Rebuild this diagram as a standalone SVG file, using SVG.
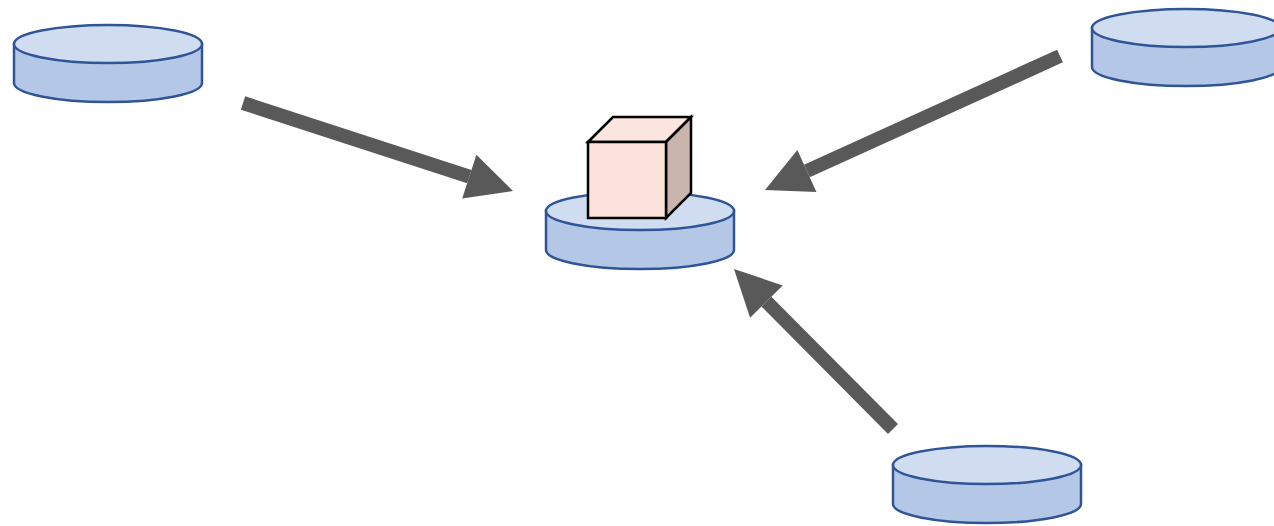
<svg xmlns="http://www.w3.org/2000/svg" width="1274" height="526" viewBox="0 0 1274 526">
  <style>
    .side { fill: #B4C7E7; stroke: #2F5597; stroke-width: 2.5; }
    .lid { fill: #D0DCF0; stroke: #2F5597; stroke-width: 2.5; }
    .shaft { stroke: #595959; stroke-width: 14; fill: none; marker-end: url(#head); }
    .cube { stroke: #000; stroke-width: 2.5; stroke-linejoin: miter; }
  </style>
  <defs>
    <marker id="head" markerUnits="userSpaceOnUse" markerWidth="48" markerHeight="48" refX="0" refY="23" orient="auto" overflow="visible">
      <path d="M0,0 L46,23 L0,46 Z" fill="#595959"/>
    </marker>
    <!-- disk shape: rx 94, ry 19, height 39, centred at top ellipse origin -->
    <g id="disk">
      <path class="side" d="M-94,0 L-94,39 A94,19 0 0 0 94,39 L94,0 Z"/>
      <ellipse class="lid" cx="0" cy="0" rx="94" ry="19"/>
    </g>
  </defs>

  <g id="disk-top-left"><use href="#disk" x="108" y="44"/></g>
  <g id="disk-top-right"><use href="#disk" x="1186" y="28"/></g>
  <g id="disk-bottom-right"><use href="#disk" x="987" y="465"/></g>
  <g id="disk-center">
    <use href="#disk" x="640" y="211"/>
    <g id="cube">
      <polygon class="cube" points="588,142 613,117 691,117 666,142" fill="#FAE6DF"/>
      <polygon class="cube" points="666,142 691,117 691,193 666,218" fill="#C9B4AE"/>
      <rect class="cube" x="588" y="142" width="78" height="76" fill="#FBE1DA"/>
    </g>
  </g>

  <g id="connectors">
    <line class="shaft" x1="243" y1="103" x2="469.3" y2="176.7"/>
    <line class="shaft" x1="1060" y1="56" x2="806.9" y2="171"/>
    <line class="shaft" x1="893" y1="429" x2="766.4" y2="301.6"/>
  </g>
</svg>
